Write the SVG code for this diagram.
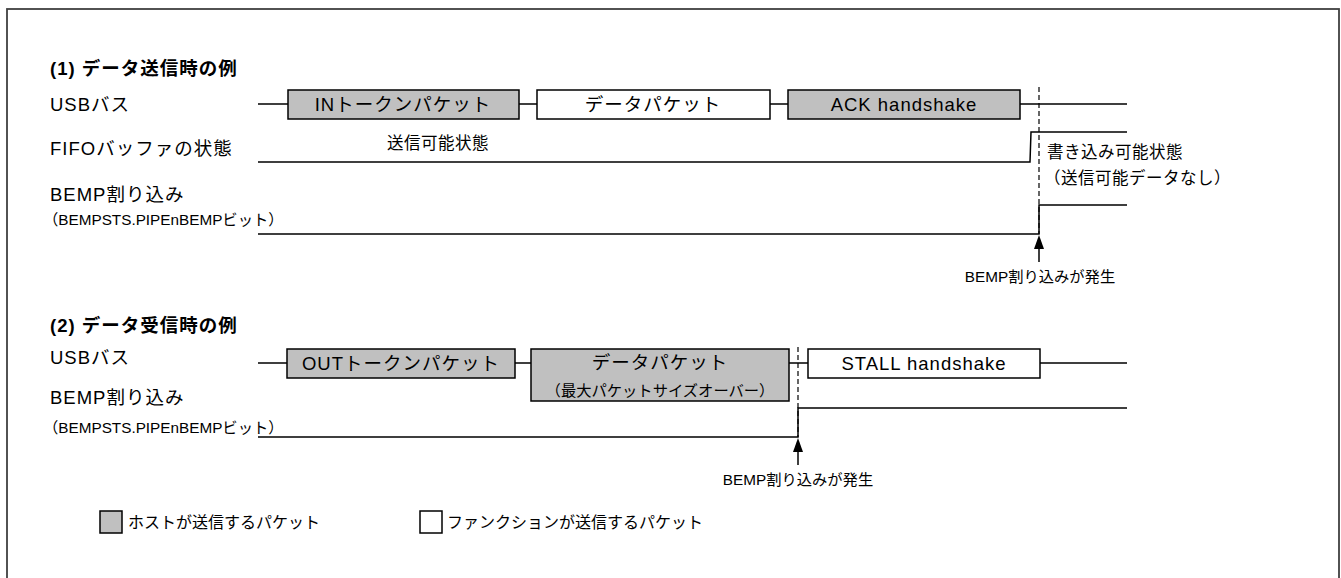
<svg xmlns="http://www.w3.org/2000/svg" width="1341" height="578" viewBox="0 0 1341 578">
<style>
text{font-family:"Liberation Sans","Noto Sans CJK JP",sans-serif;fill:#000}
.t{font-size:18.5px;font-weight:bold;letter-spacing:1px}
.l{font-size:18.5px;letter-spacing:1px}
.m{font-size:16.5px;letter-spacing:0.5px}
.s{font-size:15.3px}
.g{font-size:16px}
.c{text-anchor:middle}
.h{fill:#c0c0c0;stroke:#000;stroke-width:1.5}
.f{fill:#fff;stroke:#000;stroke-width:1.5}
.w{fill:none;stroke:#000;stroke-width:1.5}
.d{fill:none;stroke:#000;stroke-width:1.2;stroke-dasharray:5 3}
.k{fill:#000;stroke:none}
</style>
<rect x="7" y="9" width="1332" height="620" fill="none" stroke="#404040" stroke-width="1.8"/>

<g id="labels">
<text class="t" x="50" y="75">(1) データ送信時の例</text>
<text class="l" x="50" y="111">USBバス</text>
<text class="l" x="50" y="155">FIFOバッファの状態</text>
<text class="l" x="50" y="201">BEMP割り込み</text>
<text class="s" x="43" y="225">（BEMPSTS.PIPEnBEMPビット）</text>
<text class="t" x="50" y="332">(2) データ受信時の例</text>
<text class="l" x="50" y="364">USBバス</text>
<text class="l" x="50" y="404">BEMP割り込み</text>
<text class="s" x="43" y="433">（BEMPSTS.PIPEnBEMPビット）</text>
</g>

<g id="connectors">
<path class="w" d="M258,104 H288 M519,104 H537 M770,104 H788 M1020,104 H1127"/>
<path class="w" d="M258,162 H1030 L1031,132 H1127"/>
<path class="w" d="M258,234 H1039 V205 H1127"/>
<path class="d" d="M1039,87 V234"/>
<path class="w" d="M1039,262 V247"/>
<path class="k" d="M1039,235 L1044,249 L1034,249 Z"/>
<path class="w" d="M258,363 H287 M515,363 H531 M789,363 H808 M1040,363 H1127"/>
<path class="w" d="M258,437 H798 V408 H1127"/>
<path class="d" d="M798,347 V437"/>
<path class="w" d="M798,465 V450"/>
<path class="k" d="M798,438 L803,452 L793,452 Z"/>
</g>

<g id="in-token">
<rect class="h" x="288" y="90" width="231" height="29"/>
<text class="l c" x="403" y="111">INトークンパケット</text>
</g>
<g id="data-packet-1">
<rect class="f" x="537" y="90" width="233" height="29"/>
<text class="l c" x="653" y="111">データパケット</text>
</g>
<g id="ack">
<rect class="h" x="788" y="90" width="232" height="29"/>
<text class="l c" x="904" y="111">ACK handshake</text>
</g>
<g id="fifo-state">
<text class="m" x="387" y="149">送信可能状態</text>
<text class="m" x="1047" y="158">書き込み可能状態</text>
<text class="m" x="1044" y="184">（送信可能データなし）</text>
</g>
<g id="bemp1">
<text class="s c" x="1040" y="282">BEMP割り込みが発生</text>
</g>

<g id="out-token">
<rect class="h" x="287" y="349" width="228" height="29"/>
<text class="l c" x="401" y="370">OUTトークンパケット</text>
</g>
<g id="data-packet-2">
<rect class="h" x="531" y="349" width="258" height="52"/>
<text class="l c" x="660" y="369">データパケット</text>
<text class="s c" x="660" y="396">（最大パケットサイズオーバー）</text>
</g>
<g id="stall">
<rect class="f" x="808" y="349" width="232" height="29"/>
<text class="l c" x="924" y="370">STALL handshake</text>
</g>
<g id="bemp2">
<text class="s c" x="798" y="485">BEMP割り込みが発生</text>
</g>

<g id="legend">
<rect class="h" x="100" y="511" width="22" height="22"/>
<text class="g" x="128" y="528">ホストが送信するパケット</text>
<rect class="f" x="420" y="511" width="22" height="22"/>
<text class="g" x="447" y="528">ファンクションが送信するパケット</text>
</g>
</svg>
